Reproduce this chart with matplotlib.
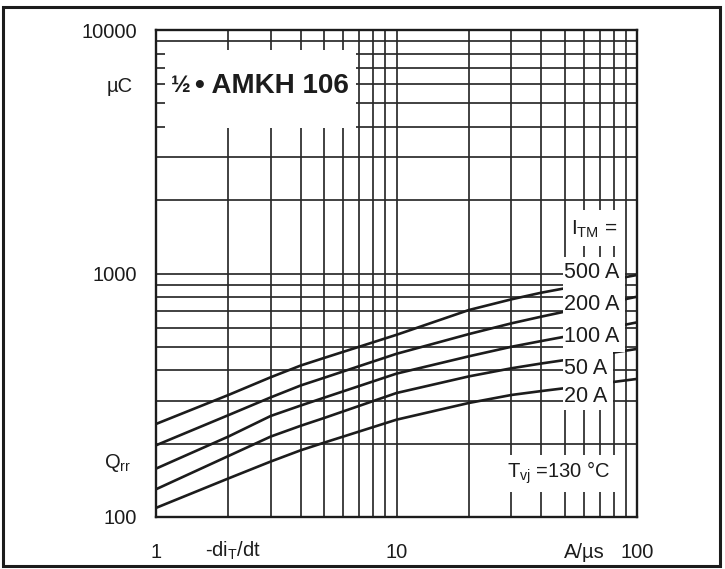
import numpy as np
import matplotlib.pyplot as plt
from matplotlib.patches import Rectangle
from matplotlib.ticker import NullFormatter

plt.rcParams['font.family'] = ['Liberation Sans', 'DejaVu Sans']
plt.rcParams['mathtext.fontset'] = 'custom'
plt.rcParams['mathtext.rm'] = 'Liberation Sans'
plt.rcParams['mathtext.it'] = 'Liberation Sans:italic'

# values (Qrr in uC vs -di/dt in A/us)
di_dt = [1, 2, 3, 4, 5, 10, 20, 30, 40, 50, 100]
qrr_500 = [241, 317, 375, 419, 450, 560, 708, 783, 834, 869, 986]
qrr_200 = [197, 262, 310, 347, 373, 468, 564, 624, 665, 697, 803]
qrr_100 = [158, 214, 260, 287, 309, 388, 457, 500, 528, 550, 630]
qrr_50 = [130, 178, 214, 237, 255, 323, 378, 408, 427, 441, 490]
qrr_20 = [109, 144, 169, 188, 202, 251, 294, 317, 329, 338, 369]
curve_labels = ['500 A', '200 A', '100 A', '50 A', '20 A']

x_ticks = [1, 10, 100]
y_ticks = [100, 1000, 10000]

ink = '#1c1c1c'
W, H = 725, 569
L, T, R, B = 156, 30, 637, 517   # plot area in pixels

fig = plt.figure(figsize=(W / 100, H / 100), dpi=100)
ax = fig.add_axes([L / W, 1 - B / H, (R - L) / W, (B - T) / H])
ax.set_xscale('log')
ax.set_yscale('log')
ax.set_xlim(1, 100)
ax.set_ylim(100, 10000)

ax.grid(True, which='both', color='#2a2a2a', lw=1.25)
ax.set_axisbelow(True)
for s in ax.spines.values():
    s.set_linewidth(1.7)
    s.set_color(ink)

ax.set_xticks(x_ticks)
ax.set_xticklabels([str(v) for v in x_ticks])
ax.set_yticks(y_ticks)
ax.set_yticklabels([str(v) for v in y_ticks])
ax.xaxis.set_minor_formatter(NullFormatter())
ax.yaxis.set_minor_formatter(NullFormatter())
ax.tick_params(which='both', length=0, labelsize=14.5, colors=ink)
ax.tick_params(axis='x', pad=19)
ax.tick_params(axis='y', pad=13.5)

for q in [qrr_500, qrr_200, qrr_100, qrr_50, qrr_20]:
    ax.plot(di_dt, q, color=ink, lw=1.9, zorder=3, solid_joinstyle='round')


def px_rect(x0, y0, x1, y1):
    # white patch given in figure pixels, placed in axes fractions
    r = Rectangle(((x0 - L) / (R - L), (B - y1) / (B - T)),
                  (x1 - x0) / (R - L), (y1 - y0) / (B - T),
                  transform=ax.transAxes, facecolor='white',
                  edgecolor='none', zorder=4, clip_on=False)
    ax.add_patch(r)


def ax_xy(x, y):
    return (x - L) / (R - L), (B - y) / (B - T)


# title box
px_rect(165, 50, 356, 128)
ax.text(*ax_xy(171, 86), '½', transform=ax.transAxes,
        fontsize=17, fontweight='bold', color=ink, ha='left', va='center', zorder=5)
ax.text(*ax_xy(195, 86), '• AMKH 106', transform=ax.transAxes,
        fontsize=20, fontweight='bold', color=ink, ha='left', va='center', zorder=5)

# current labels
px_rect(567, 210, 625, 246)
px_rect(563, 257, 625, 352)
px_rect(563, 352, 613, 410)
px_rect(505, 455, 621, 492)
ax.text(*ax_xy(571, 229), r'$\mathrm{I_{TM}}$ =', transform=ax.transAxes,
        fontsize=15, color=ink, ha='left', va='center', zorder=5)
label_y = [272, 305, 337, 369, 397]
for lab, yy in zip(curve_labels, label_y):
    ax.text(*ax_xy(564, yy), lab, transform=ax.transAxes,
            fontsize=15.5, color=ink, ha='left', va='center', zorder=5)
ax.text(*ax_xy(507, 473), r'T$_\mathrm{vj}$ =130 °C', transform=ax.transAxes,
        fontsize=14.5, color=ink, ha='left', va='center', zorder=5)

# axis captions
fig.text(133 / W, 1 - 87 / H, 'µC', fontsize=14.5, color=ink, ha='right', va='center')
fig.text(131 / W, 1 - 463 / H, r'Q$_\mathrm{rr}$', fontsize=14.5, color=ink,
         ha='right', va='center')
fig.text(205 / W, 1 - 551 / H, r'-di$_\mathrm{T}$/dt', fontsize=14.5, color=ink,
         ha='left', va='center')
fig.text(564 / W, 1 - 552 / H, 'A/µs', fontsize=14.5, color=ink, ha='left', va='center')

# outer frame
fig.add_artist(Rectangle((3 / W, 3 / H), 717 / W, 559 / H, transform=fig.transFigure,
                         fill=False, edgecolor=ink, lw=2.2))

fig.savefig('out.png', dpi=100)
